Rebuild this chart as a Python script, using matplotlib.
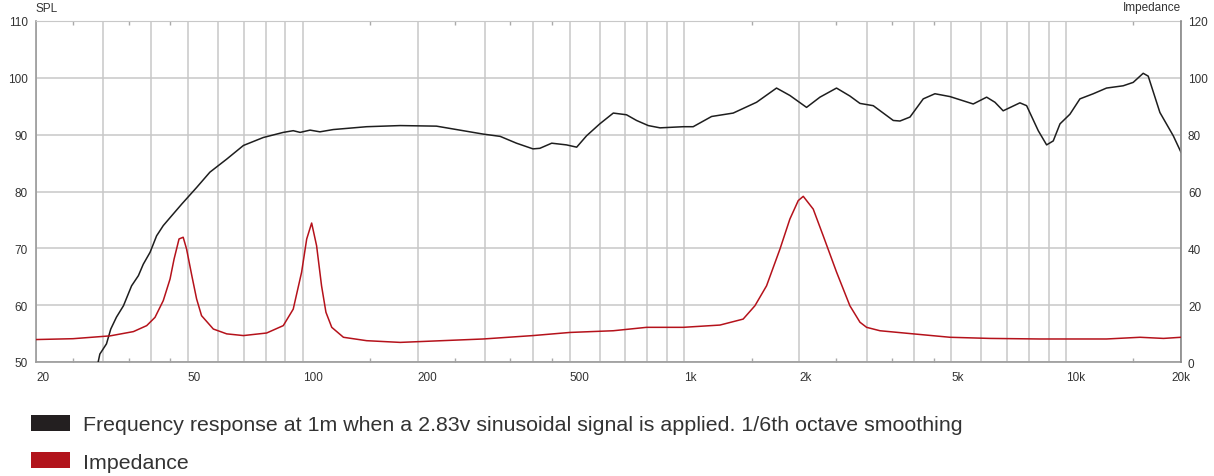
"""Frequency response and impedance of the driver."""
import matplotlib
matplotlib.use("Agg")
import matplotlib.pyplot as plt
from matplotlib.patches import Patch
from matplotlib.ticker import FixedLocator, FuncFormatter, NullFormatter

plt.rcParams["font.family"] = ["Liberation Sans", "DejaVu Sans"]

# SPL curve (Hz, dB)
spl_freq = [29.1, 29.4, 30.6, 31.4, 32.5, 33.9, 35.6, 37.1, 38.2, 39.8,
            41.4, 43.1, 45.3, 48.2, 52.7, 57.1, 63.2, 69.9, 78.8, 88.9,
            94.4, 98.4, 104.5, 110.9, 120.2, 147, 180, 224, 297, 329,
            363, 401, 418, 449, 491, 522, 554, 600, 651, 705,
            749, 804, 863, 993, 1054, 1178, 1342, 1545, 1743, 1889,
            2089, 2265, 2503, 2713, 2883, 3124, 3525, 3670, 3899, 4224,
            4532, 4964, 5710, 6191, 6510, 6840, 7568, 7880, 8453, 8891,
            9253, 9638, 10233, 10870, 11780, 12760, 14110, 14990, 15920, 16410,
            17610, 19090, 20000]
spl_db = [50.0, 51.4, 53.2, 55.8, 57.9, 59.9, 63.4, 65.2, 67.2, 69.3,
          72.2, 74.0, 75.7, 77.8, 80.7, 83.4, 85.7, 88.1, 89.5, 90.4,
          90.7, 90.4, 90.8, 90.5, 90.9, 91.4, 91.6, 91.5, 90.1, 89.7,
          88.5, 87.5, 87.6, 88.5, 88.2, 87.8, 89.8, 91.9, 93.8, 93.5,
          92.5, 91.6, 91.2, 91.4, 91.4, 93.2, 93.8, 95.7, 98.2, 96.9,
          94.8, 96.6, 98.2, 96.8, 95.5, 95.1, 92.5, 92.4, 93.1, 96.3,
          97.2, 96.7, 95.4, 96.6, 95.7, 94.2, 95.6, 95.1, 90.7, 88.2,
          88.9, 91.9, 93.6, 96.3, 97.2, 98.2, 98.6, 99.2, 100.8, 100.3,
          93.9, 89.8, 86.9]

# impedance curve (Hz, ohm)
imp_freq = [20, 25, 31.3, 36, 39, 41, 43.1, 44.9, 46, 47.4,
            48.6, 49.6, 51.2, 52.7, 54.3, 58.3, 63.2, 69.9, 80.4, 88.9,
            94.4, 99.3, 102.4, 105.5, 108.7, 112, 115, 119.1, 127.8, 147,
            180, 297, 401, 501, 651, 796, 993, 1239, 1425, 1530,
            1641, 1780, 1889, 1987, 2048, 2175, 2310, 2504, 2713, 2883,
            3001, 3253, 3977, 4964, 6314, 8536, 12760, 15620, 18000, 20000]
imp_ohm = [7.9, 8.2, 9.2, 10.7, 12.8, 15.7, 21.6, 29.2, 36.2, 43.3,
           43.9, 39.8, 30.4, 22.2, 16.3, 11.6, 9.9, 9.3, 10.2, 12.8,
           18.6, 31.6, 43.3, 48.9, 40.9, 26.8, 17.5, 12.2, 8.7, 7.5,
           6.9, 8.1, 9.3, 10.4, 11.0, 12.2, 12.2, 13.0, 15.1, 19.8,
           26.8, 39.8, 50.3, 56.8, 58.3, 53.8, 44.4, 31.6, 19.8, 14.0,
           12.2, 11.0, 9.9, 8.7, 8.3, 8.1, 8.1, 8.7, 8.3, 8.7]

grid_freqs = ([20, 30, 40, 50, 60, 70, 80, 90]
              + [100, 200, 300, 400, 500, 600, 700, 800, 900]
              + [1000, 2000, 3000, 4000, 5000, 6000, 7000, 8000, 9000]
              + [10000, 20000])
half_freqs = [25, 35, 45, 150, 250, 350, 450,
              1500, 2500, 3500, 4500, 15000]
freq_labels = {20: "20", 50: "50", 100: "100", 200: "200", 500: "500",
               1000: "1k", 2000: "2k", 5000: "5k", 10000: "10k", 20000: "20k"}

spl_color = "#1e1e1e"
imp_color = "#b5121b"
grid_color = "#c8c8c8"
text_color = "#333333"

fig = plt.figure(figsize=(12.14, 4.77), dpi=100)
ax = fig.add_axes([36 / 1214, 114 / 477, 1145 / 1214, 341 / 477])
ax2 = ax.twinx()

ax.plot(spl_freq, spl_db, color=spl_color, linewidth=1.1, zorder=3)
ax2.plot(imp_freq, imp_ohm, color=imp_color, linewidth=1.1, zorder=3)

ax.set_xscale("log")
ax.set_xlim(20, 20000)
ax.set_ylim(50, 110)
ax2.set_ylim(0, 120)

ax.xaxis.set_major_locator(FixedLocator(grid_freqs))
ax.xaxis.set_major_formatter(
    FuncFormatter(lambda v, pos: freq_labels.get(int(round(v)), "")))
ax.xaxis.set_minor_locator(FixedLocator(half_freqs))
ax.xaxis.set_minor_formatter(NullFormatter())
ax.set_yticks(range(50, 111, 10))
ax2.set_yticks(range(0, 121, 20))

ax.tick_params(axis="x", which="major", length=0, pad=6.5,
               labelsize=8.5, labelcolor=text_color)
ax.tick_params(axis="x", which="minor", length=3, width=1.0, color="#aaaaaa",
               direction="in", top=True, bottom=True)
ax.tick_params(axis="y", length=0, pad=6, labelsize=8.5, labelcolor=text_color)
ax2.tick_params(axis="y", length=0, pad=5, labelsize=8.5, labelcolor=text_color)

for lbl in ax.get_xticklabels():
    lbl.set_horizontalalignment("center" if lbl.get_text() == "20k" else "left")

ax.grid(True, which="major", color=grid_color, linewidth=1.1)
ax.set_axisbelow(True)
for side in ("left", "bottom"):
    ax.spines[side].set_color("#9a9a9a")
    ax.spines[side].set_linewidth(1.2)
ax.spines["top"].set_color(grid_color)
ax.spines["right"].set_visible(False)
for side in ("left", "bottom", "top"):
    ax2.spines[side].set_visible(False)
ax2.spines["right"].set_color("#888888")
ax2.spines["right"].set_linewidth(1.2)

fig.text(36 / 1214, 1 - 8.5 / 477, "SPL", ha="left", va="center",
         fontsize=8.5, color=text_color)
fig.text(1181 / 1214, 1 - 8.5 / 477, "Impedance", ha="right", va="center",
         fontsize=8.5, color=text_color)

handles = [
    Patch(facecolor="#231f20", edgecolor="none"),
    Patch(facecolor="#b2141c", edgecolor="none"),
]
labels = [
    "Frequency response at 1m when a 2.83v sinusoidal signal is applied. "
    "1/6th octave smoothing",
    "Impedance",
]
fig.legend(handles, labels, loc="upper left",
           bbox_to_anchor=(31 / 1214, 1 - 416 / 477), frameon=False,
           fontsize=15.4, handlelength=1.8, handleheight=0.75,
           handletextpad=0.65, labelspacing=0.85, borderpad=0,
           borderaxespad=0, labelcolor=text_color)

fig.savefig("out.png", dpi=100)
